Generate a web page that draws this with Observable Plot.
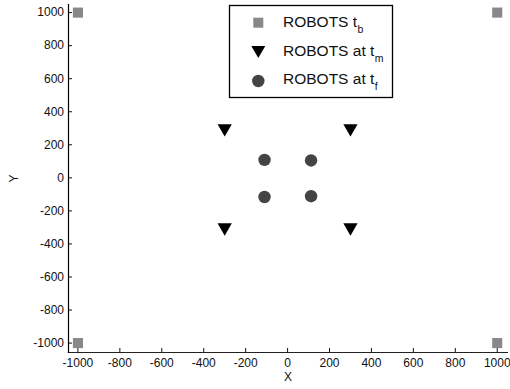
<!DOCTYPE html>
<html>
<head>
<meta charset="utf-8">
<script src="https://cdn.jsdelivr.net/npm/d3@7"></script>
<script src="https://cdn.jsdelivr.net/npm/@observablehq/plot@0.6"></script>
<style>
  html, body { margin: 0; padding: 0; background: #fff; }
  #wrap { position: relative; width: 510px; height: 389px; font-family: "Liberation Sans", Arial, sans-serif; }
  #legend { position: absolute; left: 0; top: 0; pointer-events: none; }
</style>
</head>
<body>
<div id="wrap"></div>
<script>
const xTicks = [-1000, -800, -600, -400, -200, 0, 200, 400, 600, 800, 1000];
const yTicks = [-1000, -800, -600, -400, -200, 0, 200, 400, 600, 800, 1000];

const tbX = [-1000, 1000, -1000, 1000];
const tbY = [1000, 1000, -1000, -1000];

const tmX = [-300, 300, -300, 300];
const tmY = [300, 300, -300, -300];

const tfX = [-110, 112, -110, 112];
const tfY = [109, 105, -116, -111];

const seriesNames = ["ROBOTS t_b", "ROBOTS at t_m", "ROBOTS at t_f"];

const tb = tbX.map((x, i) => ({x, y: tbY[i]}));
const tm = tmX.map((x, i) => ({x, y: tmY[i]}));
const tf = tfX.map((x, i) => ({x, y: tfY[i]}));

const chart = Plot.plot({
  width: 510,
  height: 389,
  marginLeft: 68,
  marginRight: 3,
  marginTop: 4,
  marginBottom: 37,
  style: { fontFamily: "Liberation Sans, Arial, sans-serif", fontSize: "12px", color: "#111", background: "#fff" },
  x: { domain: [-1045, 1049], label: null },
  y: { domain: [-1057, 1049], label: null },
  marks: [
    Plot.axisX({ ticks: xTicks, tickSize: -4, tickPadding: 9.5, tickFormat: d => String(d), fontSize: 12, label: null }),
    Plot.axisY({ ticks: yTicks, tickSize: -4, tickPadding: 8.5, tickFormat: d => String(d), fontSize: 12, label: null }),
    Plot.frame({ anchor: "bottom", stroke: "#222", strokeWidth: 1.2 }),
    Plot.frame({ anchor: "left", stroke: "#000", strokeWidth: 1.2 }),
    Plot.text(["X"], { frameAnchor: "bottom", lineAnchor: "middle", textAnchor: "middle", dy: 25, fontSize: 12, fill: "#111" }),
    Plot.text(["Y"], { frameAnchor: "left", lineAnchor: "middle", textAnchor: "middle", dx: -54, rotate: -90, fontSize: 12, fill: "#111" }),
    Plot.dot(tb, { x: "x", y: "y", symbol: "square", r: 5.7, fill: "#888", stroke: "none" }),
    Plot.dot(tm, { x: "x", y: "y", symbol: "triangle", rotate: 180, r: 5.3, fill: "#000", stroke: "none" }),
    Plot.dot(tf, { x: "x", y: "y", symbol: "circle", r: 6.2, fill: "#444", stroke: "none" })
  ]
});

const wrap = document.getElementById("wrap");
wrap.appendChild(chart);

// Legend (overlay SVG)
const ns = "http://www.w3.org/2000/svg";
const lg = document.createElementNS(ns, "svg");
lg.setAttribute("id", "legend");
lg.setAttribute("width", 510);
lg.setAttribute("height", 389);
lg.innerHTML =
  '<rect x="229.5" y="5.5" width="163" height="92" fill="#fff" stroke="#000" stroke-width="1.3"/>' +
  '<rect x="253.3" y="17.7" width="10" height="10" fill="#888"/>' +
  '<path d="M251.3,46 L265.3,46 L258.3,58 Z" fill="#000"/>' +
  '<circle cx="258.3" cy="81" r="6.2" fill="#444"/>';
const baselines = [26.5, 55.5, 84.3];
seriesNames.forEach((name, i) => {
  const [base, sub] = name.split("_");
  const t = document.createElementNS(ns, "text");
  t.setAttribute("x", 283);
  t.setAttribute("y", baselines[i]);
  t.setAttribute("font-family", "Liberation Sans, Arial, sans-serif");
  t.setAttribute("font-size", "15.5");
  t.setAttribute("fill", "#111");
  const t1 = document.createElementNS(ns, "tspan");
  t1.textContent = base;
  const t2 = document.createElementNS(ns, "tspan");
  t2.setAttribute("font-size", "10.5");
  t2.setAttribute("dy", "6");
  t2.setAttribute("dx", "0.5");
  t2.textContent = sub;
  t.appendChild(t1);
  t.appendChild(t2);
  lg.appendChild(t);
});
wrap.appendChild(lg);
</script>
</body>
</html>
